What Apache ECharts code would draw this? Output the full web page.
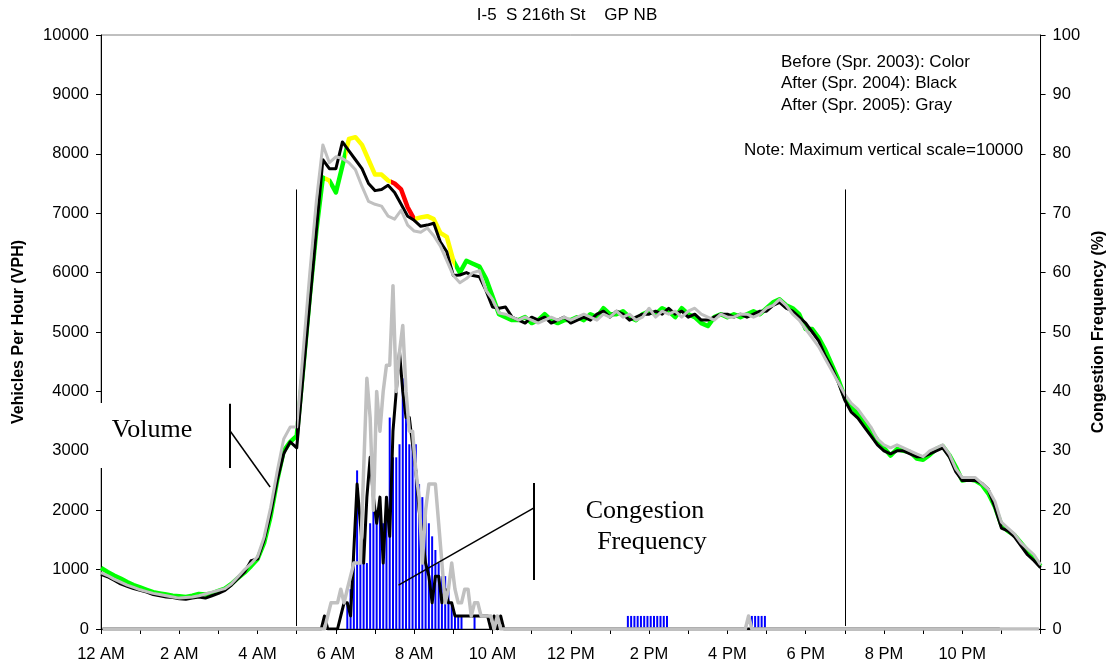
<!DOCTYPE html>
<html><head><meta charset="utf-8">
<script src="https://cdn.jsdelivr.net/npm/echarts@6/dist/echarts.min.js"></script>
<style>html,body{margin:0;padding:0;background:#fff}#c{width:1115px;height:669px}</style>
</head><body><div id="c"></div>
<script>
// Volume (VPH), 10-minute steps from 12 AM to 12 AM
const volume2003 = [
1030,960,900,850,790,740,700,660,620,600,580,560,
550,540,560,590,580,600,640,680,760,860,950,1060,
1180,1450,1900,2500,3000,3150,3250,4400,5600,6700,7600,7550,
7350,7800,8250,8280,8150,7900,7650,7650,7550,7500,7400,7100,
6900,6930,6950,6900,6670,6600,6200,6000,6200,6150,6100,5900,
5600,5300,5250,5200,5200,5250,5150,5200,5300,5200,5150,5200,
5200,5250,5200,5300,5250,5400,5300,5300,5350,5250,5200,5300,
5350,5300,5400,5350,5250,5400,5300,5250,5150,5100,5250,5300,
5250,5300,5250,5300,5350,5300,5400,5500,5550,5450,5400,5300,
5050,5050,4900,4700,4450,4200,3900,3750,3620,3480,3330,3180,
3050,2920,3030,3000,2980,2870,2850,2930,3030,3080,2930,2730,
2500,2520,2500,2430,2280,2060,1750,1650,1580,1450,1320,1200,
1060];
const volume2004 = [
920,880,820,760,720,680,650,620,580,560,540,530,
510,500,520,540,520,560,600,650,740,850,960,1150,
1180,1500,1950,2500,2950,3150,3050,4300,5500,6700,7900,7750,
7750,8200,8050,7900,7750,7500,7380,7400,7470,7350,7150,6950,
6880,6780,6800,6830,6520,6350,5950,5960,6000,5950,5930,5700,
5420,5400,5420,5250,5200,5150,5250,5200,5250,5150,5200,5250,
5150,5200,5250,5200,5300,5350,5250,5350,5300,5200,5250,5300,
5300,5350,5300,5400,5300,5350,5250,5300,5200,5200,5250,5300,
5300,5250,5300,5250,5300,5350,5350,5450,5500,5400,5350,5250,
5150,5000,4850,4600,4400,4150,3850,3650,3550,3400,3250,3100,
3000,2950,3000,3000,2950,2900,2900,2950,3000,3050,2900,2650,
2500,2500,2500,2450,2350,2050,1700,1650,1550,1400,1250,1150,
1030];
const volume2005 = [
950,900,840,790,740,700,660,630,600,580,560,540,
520,530,540,560,590,620,650,680,760,880,1000,1100,
1220,1550,2050,2650,3200,3400,3400,4700,6000,7200,8150,7850,
7950,7920,7850,7730,7450,7200,7150,7120,6950,6900,7050,6800,
6700,6680,6750,6620,6450,6200,5950,5830,5900,6000,6030,5700,
5550,5320,5300,5250,5200,5250,5200,5150,5200,5250,5200,5250,
5200,5250,5300,5250,5200,5300,5250,5350,5250,5300,5200,5250,
5400,5250,5350,5300,5350,5250,5350,5400,5300,5250,5200,5300,
5250,5250,5300,5300,5250,5300,5400,5450,5550,5450,5300,5200,
5050,4900,4750,4550,4350,4150,3950,3800,3700,3550,3400,3200,
3100,3050,3100,3050,3000,2950,2900,3000,3050,3100,2950,2700,
2550,2550,2550,2450,2350,2150,1800,1700,1600,1450,1350,1250,
1080];

// Congestion frequency (%), 5-minute slots, one row per hour
const congestion2003 = [
0,0,0,0,0,0,0,0,0,0,0,0, 0,0,0,0,0,0,0,0,0,0,0,0,
0,0,0,0,0,0,0,0,0,0,0,0, 0,0,0,0,0,0,0,0,0,0,0,0,
0,0,0,0,0,0,0,0,0,0,0,0, 0,0,0,0,0,0,0,0,0,0,0,0,
0,0,0,4.4,6.7,13.3,26.7,13.3,11.1,11.1,17.8,20.0,
20.0,22.2,17.8,20.0,35.6,28.9,28.9,31.1,42.2,40.0,31.1,31.1,
31.1,24.4,22.2,20.0,17.8,15.6,13.3,11.1,8.9,8.9,6.7,4.4,
2.2,2.2,2.2,0,0,0,2.2,0,0,0,0,0,
0,0,0,0,0,0,0,0,0,0,0,0, 0,0,0,0,0,0,0,0,0,0,0,0,
0,0,0,0,0,0,0,0,0,0,0,0,
0,0,0,0,0,2.2,2.2,2.2,2.2,2.2,2.2,2.2,
2.2,2.2,2.2,2.2,2.2,2.2,0,0,0,0,0,0,
0,0,0,0,0,0,0,0,0,0,0,0,
0,0,0,0,0,0,0,2.2,2.2,2.2,2.2,2.2,
0,0,0,0,0,0,0,0,0,0,0,0, 0,0,0,0,0,0,0,0,0,0,0,0,
0,0,0,0,0,0,0,0,0,0,0,0, 0,0,0,0,0,0,0,0,0,0,0,0,
0,0,0,0,0,0,0,0,0,0,0,0, 0,0,0,0,0,0,0,0,0,0,0,0,
0,0,0,0,0,0,0,0,0,0,0,0];
const congestion2004 = [
0,0,0,0,0,0,0,0,0,0,0,0, 0,0,0,0,0,0,0,0,0,0,0,0,
0,0,0,0,0,0,0,0,0,0,0,0, 0,0,0,0,0,0,0,0,0,0,0,0,
0,0,0,0,0,0,0,0,0,0,0,0,
0,0,0,0,0,0,0,0,2.2,0,0,0,
0,2.2,4.4,4.4,2.2,13.3,24.4,17.8,11.1,22.2,28.9,22.2,
17.8,22.2,11.1,22.2,15.6,33.3,40.0,46.7,40.0,35.6,35.6,31.1,
26.7,20.0,15.6,11.1,8.9,4.4,8.9,8.9,4.4,6.7,4.4,4.4,
2.2,2.2,2.2,2.2,2.2,2.2,2.2,2.2,2.2,2.2,2.2,0,
2.2,0,2.2,0,0,0,0,0,0,0,0,0,
0,0,0,0,0,0,0,0,0,0,0,0, 0,0,0,0,0,0,0,0,0,0,0,0,
0,0,0,0,0,0,0,0,0,0,0,0, 0,0,0,0,0,0,0,0,0,0,0,0,
0,0,0,0,0,0,0,0,0,0,0,0, 0,0,0,0,0,0,0,0,0,0,0,0,
0,0,0,0,0,0,0,0,0,0,0,0, 0,0,0,0,0,0,0,0,0,0,0,0,
0,0,0,0,0,0,0,0,0,0,0,0, 0,0,0,0,0,0,0,0,0,0,0,0,
0,0,0,0,0,0,0,0,0,0,0,0, 0,0,0,0,0,0,0,0,0,0,0,0];
const congestion2005 = [
0,0,0,0,0,0,0,0,0,0,0,0, 0,0,0,0,0,0,0,0,0,0,0,0,
0,0,0,0,0,0,0,0,0,0,0,0, 0,0,0,0,0,0,0,0,0,0,0,0,
0,0,0,0,0,0,0,0,0,0,0,0,
0,0,0,0,0,0,0,0,0,2.2,4.4,4.4,
4.4,6.7,4.4,6.7,8.9,11.1,11.1,11.1,26.7,42.2,35.6,20.0,
40.0,33.3,40.0,44.4,44.4,57.8,40.0,46.7,51.1,40.0,33.3,33.3,
26.7,22.2,11.1,20.0,24.4,24.4,24.4,17.8,11.1,4.4,6.7,11.1,
6.7,4.4,4.4,6.7,6.7,2.2,4.4,4.4,2.2,2.2,2.2,2.2,
0,2.2,0,0,0,0,0,0,0,0,0,0,
0,0,0,0,0,0,0,0,0,0,0,0, 0,0,0,0,0,0,0,0,0,0,0,0,
0,0,0,0,0,0,0,0,0,0,0,0, 0,0,0,0,0,0,0,0,0,0,0,0,
0,0,0,0,0,0,0,0,0,0,0,0,
0,0,0,0,0,0,2.2,0,0,0,0,0,
0,0,0,0,0,0,0,0,0,0,0,0, 0,0,0,0,0,0,0,0,0,0,0,0,
0,0,0,0,0,0,0,0,0,0,0,0, 0,0,0,0,0,0,0,0,0,0,0,0,
0,0,0,0,0,0,0,0,0,0,0,0, 0,0,0,0,0,0,0,0,0,0,0,0,
0,0,0,0,0,0,0,0,0,0,0,0];

const xTickLabels = ['12 AM','2 AM','4 AM','6 AM','8 AM','10 AM','12 PM','2 PM','4 PM','6 PM','8 PM','10 PM'];

// 2003 speed condition colouring by time of day (hours)
const condition2003 = [
  {lt: 5.72, color: '#00ff00'},
  {gte: 5.72, lt: 5.85, color: '#ffff00'},
  {gte: 5.85, lt: 6.25, color: '#00ff00'},
  {gte: 6.25, lt: 7.4, color: '#ffff00'},
  {gte: 7.4, lt: 8.03, color: '#ff0000'},
  {gte: 8.03, lt: 9.05, color: '#ffff00'},
  {gte: 9.05, color: '#00ff00'}
];

// annotation lines in data coordinates [hour, VPH]
const annotationLines = [
  [[5, 7400], [5, 50], 1],
  [[19, 7400], [19, 50], 1],
  [[3.28, 3790], [3.28, 2710], 2],
  [[3.28, 3350], [4.32, 2390], 1.5],
  [[11.06, 2460], [11.06, 825], 2],
  [[11.06, 2040], [7.60, 740], 1.5]
];

const volTimes = volume2003.map((_, k) => k / 6);
const slotTimes = congestion2003.map((_, s) => (s + 0.5) / 12);
const zip = (ts, vs) => vs.map((v, i) => [ts[i], v]);
const SANS = '"Liberation Sans", Arial, sans-serif';
const SERIF = '"Liberation Serif", "Times New Roman", serif';
const TICK = 16.5;

const chart = echarts.init(document.getElementById('c'), null, {renderer: 'canvas'});
const option = {
  animation: false,
  backgroundColor: '#fff',
  textStyle: {fontFamily: SANS},
  grid: {left: 101, right: 70, top: 35, bottom: 40, show: true, borderColor: '#808080', borderWidth: 1, backgroundColor: 'transparent'},
  xAxis: {
    type: 'value', min: 0, max: 24, interval: 1,
    axisLine: {show: true, lineStyle: {color: '#000', width: 1}},
    axisTick: {show: true, length: 5, lineStyle: {color: '#000'}},
    axisLabel: {color: '#000', fontSize: TICK, fontFamily: SANS, margin: 17,
      formatter: v => (v % 2 === 0 && v < 24) ? xTickLabels[v / 2] : ''},
    splitLine: {show: false}
  },
  yAxis: [
    {type: 'value', min: 0, max: 10000, interval: 1000, position: 'left',
     name: 'Vehicles Per Hour (VPH)', nameLocation: 'middle', nameGap: 74,
     nameTextStyle: {fontWeight: 'bold', fontSize: 16, color: '#000', fontFamily: SANS},
     axisLine: {show: true, lineStyle: {color: '#000'}},
     axisTick: {show: true, length: 5, lineStyle: {color: '#000'}},
     axisLabel: {color: '#000', fontSize: TICK, fontFamily: SANS, margin: 12, formatter: v => String(v)},
     splitLine: {show: false}},
    {type: 'value', min: 0, max: 100, interval: 10, position: 'right',
     name: 'Congestion Frequency (%)', nameLocation: 'middle', nameGap: 46,
     nameTextStyle: {fontWeight: 'bold', fontSize: 16, color: '#000', fontFamily: SANS},
     axisLine: {show: true, lineStyle: {color: '#000'}},
     axisTick: {show: true, length: 5, lineStyle: {color: '#000'}},
     axisLabel: {color: '#000', fontSize: TICK, fontFamily: SANS, margin: 12, formatter: v => String(v)},
     splitLine: {show: false}}
  ],
  visualMap: {show: false, type: 'piecewise', seriesIndex: 3, dimension: 0, pieces: condition2003},
  series: [
    {name: 'Congestion 2003', type: 'bar', yAxisIndex: 1, barWidth: 2,
     itemStyle: {color: '#0000ff'},
     data: zip(slotTimes, congestion2003).filter(p => p[1] > 0)},
    {name: 'Congestion 2004', type: 'line', yAxisIndex: 1, showSymbol: false, symbol: 'none',
     lineStyle: {color: '#000', width: 3, join: 'round'}, data: zip(slotTimes, congestion2004)},
    {name: 'Congestion 2005', type: 'line', yAxisIndex: 1, showSymbol: false, symbol: 'none',
     lineStyle: {color: '#c0c0c0', width: 3.5, join: 'round'}, data: zip(slotTimes, congestion2005)},
    {name: 'Volume 2003', type: 'line', yAxisIndex: 0, showSymbol: false, symbol: 'none',
     lineStyle: {width: 4.5, join: 'round'}, data: zip(volTimes, volume2003)},
    {name: 'Volume 2004', type: 'line', yAxisIndex: 0, showSymbol: false, symbol: 'none',
     lineStyle: {color: '#000', width: 3, join: 'round'}, data: zip(volTimes, volume2004),
     markLine: {silent: true, symbol: ['none', 'none'], label: {show: false}, animation: false,
       lineStyle: {color: '#000', width: 1, type: 'solid'},
       emphasis: {disabled: true},
       data: annotationLines.map(a => [
         {coord: a[0], lineStyle: {color: '#000', width: a[2], type: 'solid'}},
         {coord: a[1]}
       ])}},
    {name: 'Volume 2005', type: 'line', yAxisIndex: 0, showSymbol: false, symbol: 'none',
     lineStyle: {color: '#c0c0c0', width: 3, join: 'round'}, data: zip(volTimes, volume2005)}
  ],
  graphic: [
    {type: 'rect', z: 100, shape: {x: 93, y: 403, width: 112, height: 65}, style: {fill: '#fff'}},
    {type: 'text', z: 101, style: {text: 'Volume', x: 152, y: 430, font: '26px ' + SERIF, fill: '#000', textAlign: 'center', textVerticalAlign: 'middle'}},
    {type: 'text', z: 101, style: {text: 'Congestion', x: 645, y: 511, font: '26px ' + SERIF, fill: '#000', textAlign: 'center', textVerticalAlign: 'middle'}},
    {type: 'text', z: 101, style: {text: 'Frequency', x: 652, y: 542, font: '26px ' + SERIF, fill: '#000', textAlign: 'center', textVerticalAlign: 'middle'}},
    {type: 'text', z: 101, style: {text: 'I-5  S 216th St    GP NB', x: 567, y: 15, font: '17px ' + SANS, fill: '#000', textAlign: 'center', textVerticalAlign: 'middle'}},
    {type: 'text', z: 101, style: {text: 'Before (Spr. 2003): Color', x: 781, y: 62, font: '17px ' + SANS, fill: '#000', textAlign: 'left', textVerticalAlign: 'middle'}},
    {type: 'text', z: 101, style: {text: 'After (Spr. 2004): Black', x: 781, y: 83, font: '17px ' + SANS, fill: '#000', textAlign: 'left', textVerticalAlign: 'middle'}},
    {type: 'text', z: 101, style: {text: 'After (Spr. 2005): Gray', x: 781, y: 105, font: '17px ' + SANS, fill: '#000', textAlign: 'left', textVerticalAlign: 'middle'}},
    {type: 'text', z: 101, style: {text: 'Note: Maximum vertical scale=10000', x: 744, y: 150, font: '17px ' + SANS, fill: '#000', textAlign: 'left', textVerticalAlign: 'middle'}}
  ]
};
chart.setOption(option);
</script>
</body></html>
